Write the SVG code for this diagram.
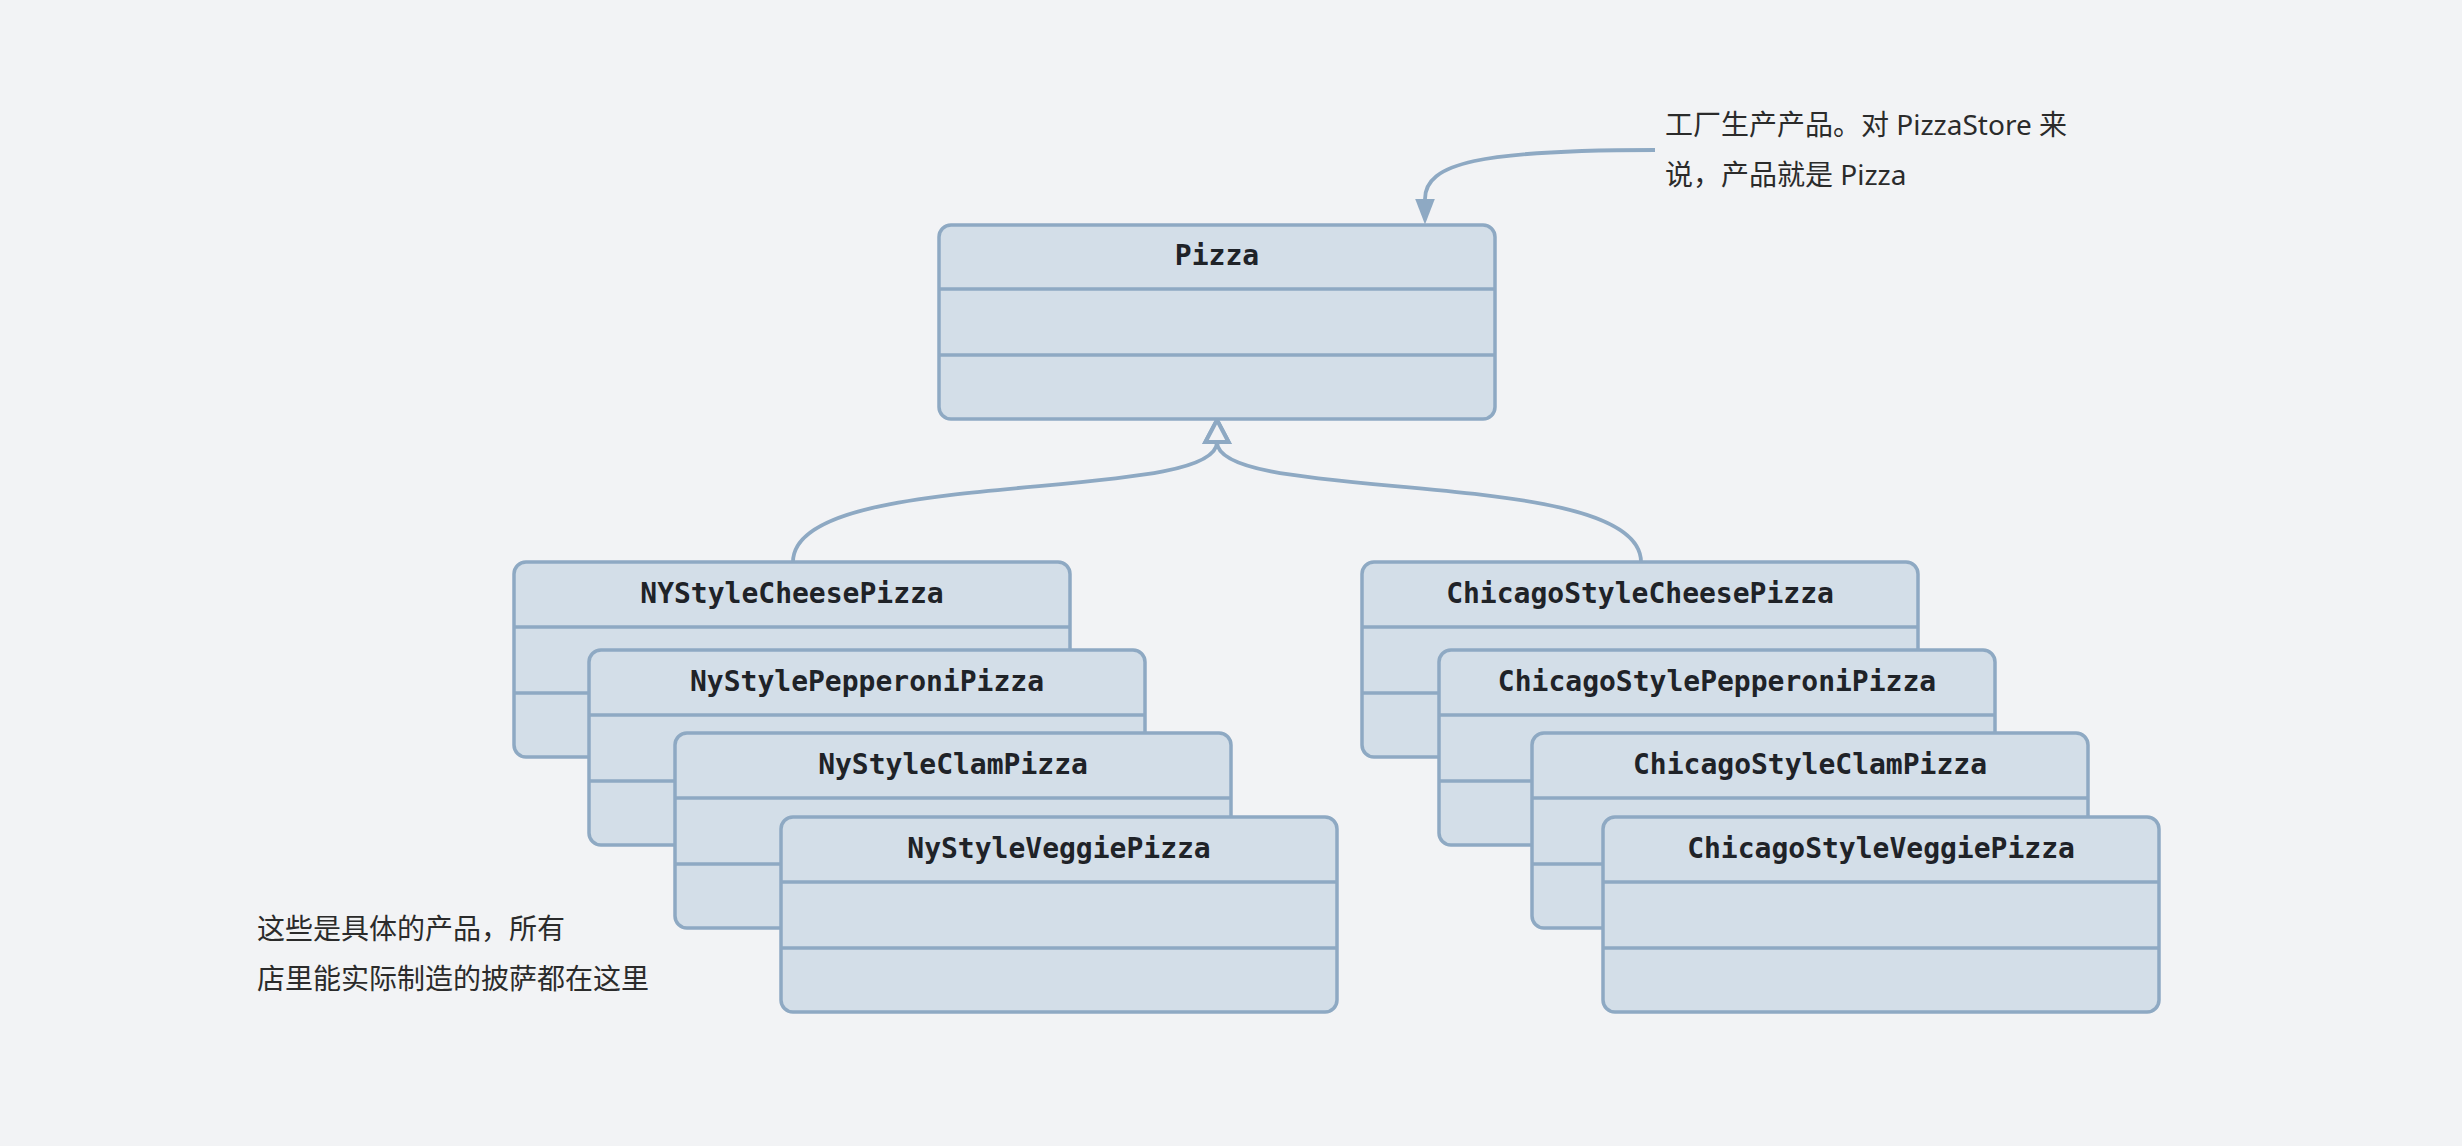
<svg xmlns="http://www.w3.org/2000/svg" width="2462" height="1146" viewBox="0 0 2462 1146">
<defs>
<style>
.box{fill:#d3dee8;stroke:#8ea9c3;stroke-width:3.5}
.div{stroke:#8ea9c3;stroke-width:3.5}
.title{font-family:"DejaVu Sans Mono","Liberation Mono",monospace;font-weight:bold;font-size:28px;fill:#1f2328;text-anchor:middle}
.note{font-family:"Noto Sans","Noto Sans CJK SC",sans-serif;font-size:28px;fill:#2b2b2b}
.conn{fill:none;stroke:#8ea9c3;stroke-width:3.8}
</style>
<marker id="hollow" markerUnits="userSpaceOnUse" markerWidth="30" markerHeight="30" refX="0" refY="0" viewBox="-3 -13 26 26" orient="auto">
<path d="M0,-10 L19,0 L0,10 Z" fill="#f2f3f5" stroke="#8ea9c3" stroke-width="3.5" stroke-linejoin="miter"/>
</marker>
<marker id="filled" markerUnits="userSpaceOnUse" markerWidth="30" markerHeight="30" refX="0" refY="0" viewBox="-2 -11 26 22" orient="auto">
<path d="M0,-8.5 L22,0 L0,8.5 Z" fill="#8ea9c3"/>
</marker>
</defs>
<rect width="2462" height="1146" fill="#f2f3f5"/>

<g id="connectors">
<path class="conn" d="M793,562 C793,465 1217,505 1217,442" marker-end="url(#hollow)"/>
<path class="conn" d="M1641,562 C1641,465 1217,505 1217,442" marker-end="url(#hollow)"/>
<path class="conn" d="M1655,150 C1480,150 1425,163 1425,199" marker-end="url(#filled)"/>
</g>

<g id="Pizza">
<rect class="box" x="939" y="225" width="556" height="194" rx="12"/>
<line class="div" x1="939" y1="289" x2="1495" y2="289"/>
<line class="div" x1="939" y1="355" x2="1495" y2="355"/>
<text class="title" x="1217" y="265">Pizza</text>
</g>

<g id="NYStyleCheesePizza">
<rect class="box" x="514" y="562" width="556" height="195" rx="12"/>
<line class="div" x1="514" y1="627" x2="1070" y2="627"/>
<line class="div" x1="514" y1="693" x2="1070" y2="693"/>
<text class="title" x="792" y="603">NYStyleCheesePizza</text>
</g>
<g id="NyStylePepperoniPizza">
<rect class="box" x="589" y="650" width="556" height="195" rx="12"/>
<line class="div" x1="589" y1="715" x2="1145" y2="715"/>
<line class="div" x1="589" y1="781" x2="1145" y2="781"/>
<text class="title" x="867" y="691">NyStylePepperoniPizza</text>
</g>
<g id="NyStyleClamPizza">
<rect class="box" x="675" y="733" width="556" height="195" rx="12"/>
<line class="div" x1="675" y1="798" x2="1231" y2="798"/>
<line class="div" x1="675" y1="864" x2="1231" y2="864"/>
<text class="title" x="953" y="774">NyStyleClamPizza</text>
</g>
<g id="NyStyleVeggiePizza">
<rect class="box" x="781" y="817" width="556" height="195" rx="12"/>
<line class="div" x1="781" y1="882" x2="1337" y2="882"/>
<line class="div" x1="781" y1="948" x2="1337" y2="948"/>
<text class="title" x="1059" y="858">NyStyleVeggiePizza</text>
</g>

<g id="ChicagoStyleCheesePizza">
<rect class="box" x="1362" y="562" width="556" height="195" rx="12"/>
<line class="div" x1="1362" y1="627" x2="1918" y2="627"/>
<line class="div" x1="1362" y1="693" x2="1918" y2="693"/>
<text class="title" x="1640" y="603">ChicagoStyleCheesePizza</text>
</g>
<g id="ChicagoStylePepperoniPizza">
<rect class="box" x="1439" y="650" width="556" height="195" rx="12"/>
<line class="div" x1="1439" y1="715" x2="1995" y2="715"/>
<line class="div" x1="1439" y1="781" x2="1995" y2="781"/>
<text class="title" x="1717" y="691">ChicagoStylePepperoniPizza</text>
</g>
<g id="ChicagoStyleClamPizza">
<rect class="box" x="1532" y="733" width="556" height="195" rx="12"/>
<line class="div" x1="1532" y1="798" x2="2088" y2="798"/>
<line class="div" x1="1532" y1="864" x2="2088" y2="864"/>
<text class="title" x="1810" y="774">ChicagoStyleClamPizza</text>
</g>
<g id="ChicagoStyleVeggiePizza">
<rect class="box" x="1603" y="817" width="556" height="195" rx="12"/>
<line class="div" x1="1603" y1="882" x2="2159" y2="882"/>
<line class="div" x1="1603" y1="948" x2="2159" y2="948"/>
<text class="title" x="1881" y="858">ChicagoStyleVeggiePizza</text>
</g>

<g id="note-factory">
<text class="note" x="1665" y="135">工厂生产产品。对 PizzaStore 来</text>
<text class="note" x="1665" y="185">说，产品就是 Pizza</text>
</g>
<g id="note-concrete">
<text class="note" x="257" y="939">这些是具体的产品，所有</text>
<text class="note" x="257" y="989">店里能实际制造的披萨都在这里</text>
</g>
</svg>
